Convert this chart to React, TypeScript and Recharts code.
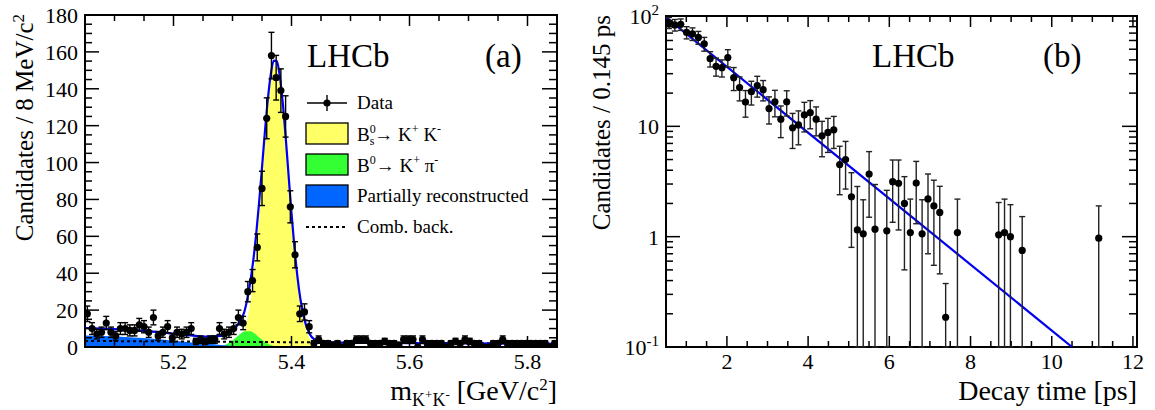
import React from "react";
import { ComposedChart, XAxis, YAxis, Line, Area, Scatter, ErrorBar, ReferenceArea } from "recharts";

const SERIF = '"Liberation Serif", "Times New Roman", serif';

// (a) K+K- invariant mass, 8 MeV/c2 bins from 5.05 to 5.85 GeV/c2
const MASS_LO = 5.05;
const MASS_BIN = 0.008;
const massCounts = [
  18, 10, 7, 8, 13, 8, 6, 10, 10, 9,
  9, 12, 11, 8, 16, 6, 8, 11, 5, 8,
  7, 8, 10, 3, 4, 3, 4, 4, 10, 7,
  8, 10, 16, 13, 30, 36, 54, 86, 124, 158,
  146, 139, 125, 76, 50, 18, 19, 11, 2, 4,
  2, 2, 1, 2, 0, 2, 2, 4, 4, 4,
  2, 2, 2, 3, 2, 2, 1, 4, 4, 4,
  0, 4, 2, 2, 2, 2, 0, 2, 3, 2,
  4, 3, 2, 2, 0, 0, 2, 2, 4, 2,
  2, 2, 2, 2, 2, 2, 2, 2, 0, 2,
];
const massErr = [
  4.2, 3.2, 2.6, 2.8, 3.6, 2.8, 2.4, 3.2, 3.2, 3.0,
  3.0, 3.5, 3.3, 2.8, 4.0, 2.4, 2.8, 3.3, 2.2, 2.8,
  2.6, 2.8, 3.2, 1.7, 2.0, 1.7, 2.0, 2.0, 3.2, 2.6,
  2.8, 3.2, 4.0, 3.6, 5.5, 6.0, 7.3, 9.3, 11.1, 12.6,
  12.1, 11.8, 11.2, 8.7, 7.1, 4.2, 4.4, 3.3, 1.4, 2.0,
  1.4, 1.4, 1.0, 1.4, 1.1, 1.4, 1.4, 2.0, 2.0, 2.0,
  1.4, 1.4, 1.4, 1.7, 1.4, 1.4, 1.0, 2.0, 2.0, 2.0,
  1.1, 2.0, 1.4, 1.4, 1.4, 1.4, 1.1, 1.4, 1.7, 1.4,
  2.0, 1.7, 1.4, 1.4, 1.1, 1.1, 1.4, 1.4, 2.0, 1.4,
  1.4, 1.4, 1.4, 1.4, 1.4, 1.4, 1.4, 1.4, 1.1, 1.4,
];

// fit and its components, read along the mass axis
const curveMass = [
  5.05, 5.08, 5.11, 5.14, 5.17, 5.2, 5.23, 5.26,
  5.28, 5.29, 5.3, 5.31, 5.32, 5.33,
  5.335, 5.34, 5.345, 5.35, 5.355, 5.36, 5.365, 5.37, 5.375, 5.38,
  5.385, 5.39, 5.395, 5.4, 5.405, 5.41, 5.415, 5.42,
  5.43, 5.44, 5.45, 5.47, 5.5, 5.6, 5.7, 5.85,
];
const fitTotal = [
  10.3, 10.0, 9.6, 9.0, 8.2, 7.3, 6.3, 5.6,
  6.0, 7.0, 9.0, 12.5, 19, 35,
  46.4, 60.8, 78, 97.4, 116.9, 134.6, 148.1, 155.3, 155, 147.2,
  133, 114.3, 93.4, 72.6, 54, 38.3, 26.2, 17.4,
  7.5, 3.9, 2.8, 2.5, 2.35, 2.15, 1.95, 1.75,
];
const sigBs = [
  0, 0, 0, 0, 0, 0, 0, 0,
  0, 0.15, 0.7, 2.7, 8.9, 23.7,
  35.8, 51.4, 70, 90.7, 111.6, 130.2, 144.4, 152, 152, 144.4,
  130.2, 111.6, 90.7, 70, 51.4, 35.8, 23.7, 14.9,
  5, 1.4, 0.3, 0, 0, 0, 0, 0,
];
const sigB0 = [
  0, 0, 0, 0, 0, 0, 0, 0.05,
  0.5, 1.5, 3.5, 6.2, 8.4, 8.6,
  7.9, 6.7, 5.3, 4.0, 2.7, 1.8, 1.1, 0.6, 0.35, 0.18,
  0.09, 0.04, 0, 0, 0, 0, 0, 0,
  0, 0, 0, 0, 0, 0, 0, 0,
];
const partReco = [
  6.2, 5.9, 5.5, 5.0, 4.3, 3.4, 2.5, 1.7,
  1.1, 0.8, 0.5, 0.25, 0.1, 0,
  0, 0, 0, 0, 0, 0, 0, 0, 0, 0,
  0, 0, 0, 0, 0, 0, 0, 0,
  0, 0, 0, 0, 0, 0, 0, 0,
];
const combMass = [5.05, 5.45, 5.85];
const combBkg = [3.3, 2.5, 1.75];

// (b) decay time, 0.145 ps bins from 0.5 ps; null = bin not drawn on the log scale
const T_LO = 0.5;
const T_BIN = 0.145;
const decayVals = [
  87, 83, 84, 71, 69, 64, 56, 41, 35, 34,
  42, 27.6, 22.5, 16.6, 20.6, 23.4, 21.5, 14.5, 16.7, 11.6,
  16.7, 9.7, 10.3, 12.7, 13.3, 11.6, 8.2, 8.8, 9.3, 4.5,
  5.0, 2.3, 1.15, 1.06, 3.7, 1.17, null, 1.13, 3.15, 3.05,
  2.0, 1.09, 3.06, 1.06, 2.2, 1.9, 1.66, 0.186, null, 1.09,
  null, null, null, null, null, null, 1.04, 1.09, 1.0, null,
  0.75, null, null, null, null, null, null, null, null, null,
  null, null, null, 0.97, null, null, null, null, null, null,
];
const decayErr = [
  10, 10, 10, 9, 9, 8.5, 8, 6.5, 6.5, 6,
  7.5, 6.5, 5.5, 4.5, 5, 5, 4.5, 4, 4.5, 3.7,
  4.3, 3.4, 3.5, 3.8, 3.8, 3.4, 2.9, 3, 3, 2.1,
  2.3, 1.5, 1.7, 1.1, 2.2, 1.8, null, 1.5, 1.8, 1.9,
  1.5, 1.1, 1.75, 1.1, 1.5, 1.35, 1.2, 0.19, null, 1.1,
  null, null, null, null, null, null, 1.0, 1.1, 0.95, null,
  0.77, null, null, null, null, null, null, null, null, null,
  null, null, null, 0.93, null, null, null, null, null, null,
];
const fitTime = [0.5, 10.5];
const fitDecay = [97.3, 0.1];

// axis ticks
const massTicks = [5.05, 5.1, 5.15, 5.2, 5.25, 5.3, 5.35, 5.4, 5.45, 5.5, 5.55, 5.6, 5.65, 5.7, 5.75, 5.8, 5.85];
const massLabels = [5.2, 5.4, 5.6, 5.8];
const countTicks = [
  0, 5, 10, 15, 20, 25, 30, 35, 40, 45, 50, 55, 60, 65, 70, 75, 80, 85, 90,
  95, 100, 105, 110, 115, 120, 125, 130, 135, 140, 145, 150, 155, 160, 165, 170, 175, 180,
];
const countLabels = [0, 20, 40, 60, 80, 100, 120, 140, 160, 180];
const timeTicks = [1, 1.5, 2, 2.5, 3, 3.5, 4, 4.5, 5, 5.5, 6, 6.5, 7, 7.5, 8, 8.5, 9, 9.5, 10, 10.5, 11, 11.5, 12];
const timeLabels = [2, 4, 6, 8, 10, 12];
const logTicks = [
  0.1, 0.2, 0.3, 0.4, 0.5, 0.6, 0.7, 0.8, 0.9,
  1, 2, 3, 4, 5, 6, 7, 8, 9,
  10, 20, 30, 40, 50, 60, 70, 80, 90, 100,
];
const logLabels = [0.1, 1, 10, 100];

const massPoints = massCounts.map((n, i) => ({
  x: MASS_LO + MASS_BIN * (i + 0.5),
  y: n,
  err: [Math.min(massErr[i], n), massErr[i]],
}));
const curveData = curveMass.map((x, i) => ({
  x,
  total: fitTotal[i],
  bs: sigBs[i],
  b0: sigB0[i],
  part: partReco[i],
}));
const combData = combMass.map((x, i) => ({ x, comb: combBkg[i] }));

const decayPoints = decayVals.flatMap((v, i) => {
  const e = decayErr[i];
  if (v == null || e == null) return [];
  return [{ x: T_LO + T_BIN * (i + 0.5), y: v, err: [Math.min(e, v - 0.1), e] }];
});
const fitData = fitTime.map((x, i) => ({ x, fit: fitDecay[i] }));

type Side = "bottom" | "top" | "left" | "right";
const isIn = (list: number[], v: number) => list.some((m) => Math.abs(m - v) < 1e-6);

// ticks point inwards, as on the ROOT frame; the axis sits 1px outside the plot
function tickMaker(side: Side, labels: number[], major: number, minor: number, fmt?: (v: number) => React.ReactNode) {
  return (props: any) => {
    const v = props.payload.value;
    let x = Number(props.x);
    let y = Number(props.y);
    if (side === "bottom") y -= 1;
    if (side === "top") y += 1;
    if (side === "right") x -= 1;
    const big = isIn(labels, v);
    const len = big ? major : minor;
    let x2 = x;
    let y2 = y;
    if (side === "bottom") y2 = y - len;
    if (side === "top") y2 = y + len;
    if (side === "left") x2 = x + len;
    if (side === "right") x2 = x - len;
    return (
      <g>
        <path d={`M${x},${y}L${x2},${y2}`} stroke="#000" strokeWidth={1.5} fill="none" />
        {big && fmt && side === "bottom" && (
          <text x={x} y={y + 23} textAnchor="middle" fontFamily={SERIF} fontSize={22} fill="#000">
            {fmt(v)}
          </text>
        )}
        {big && fmt && side === "left" && (
          <text x={x - 7} y={y + 8} textAnchor="end" fontFamily={SERIF} fontSize={22} fill="#000">
            {fmt(v)}
          </text>
        )}
      </g>
    );
  };
}

const logFmt = (v: number) => {
  if (v === 0.1)
    return (
      <>
        <tspan>10</tspan>
        <tspan dy={-9} fontSize={15}>-1</tspan>
      </>
    );
  if (v === 100)
    return (
      <>
        <tspan>10</tspan>
        <tspan dy={-9} fontSize={15}>2</tspan>
      </>
    );
  return String(v);
};

function MassPanel() {
  return (
    <ComposedChart width={570} height={410} data={curveData} margin={{ top: 14, right: 12, bottom: 62, left: 0 }}>
      <XAxis dataKey="x" type="number" domain={[5.05, 5.85]} allowDataOverflow ticks={massTicks} interval={0}
        height={1} tickSize={0} tickMargin={0} tickLine={false} axisLine={false}
        tick={tickMaker("bottom", massLabels, 10, 5, (v) => v.toFixed(1))} />
      <XAxis xAxisId="top" orientation="top" dataKey="x" type="number" domain={[5.05, 5.85]} allowDataOverflow
        ticks={massTicks} interval={0} height={1} tickSize={0} tickMargin={0} tickLine={false} axisLine={false}
        tick={tickMaker("top", massLabels, 10, 5)} />
      <YAxis type="number" domain={[0, 180]} allowDataOverflow ticks={countTicks} interval={0} width={85}
        tickSize={0} tickMargin={0} tickLine={false} axisLine={false}
        tick={tickMaker("left", countLabels, 14, 7, (v) => String(v))} />
      <YAxis yAxisId="right" orientation="right" type="number" domain={[0, 180]} allowDataOverflow ticks={countTicks}
        interval={0} width={1} tickSize={0} tickMargin={0} tickLine={false} axisLine={false}
        tick={tickMaker("right", countLabels, 14, 7)} />
      <Area type="monotone" dataKey="bs" fill="#FFFF66" fillOpacity={1} stroke="none" isAnimationActive={false} />
      <Area type="monotone" dataKey="b0" fill="#33FF33" fillOpacity={1} stroke="none" isAnimationActive={false} />
      <Area type="monotone" dataKey="part" fill="#0066FF" fillOpacity={1} stroke="none" isAnimationActive={false} />
      <Line data={combData} type="linear" dataKey="comb" stroke="#000" strokeWidth={2} strokeDasharray="3 3"
        dot={false} isAnimationActive={false} />
      <Line type="monotone" dataKey="total" stroke="#0000EE" strokeWidth={2.2} dot={false} isAnimationActive={false} />
      <Scatter data={massPoints} dataKey="y" isAnimationActive={false}
        shape={(p: any) => <circle cx={p.cx} cy={p.cy} r={3.6} fill="#000" />}>
        <ErrorBar dataKey="err" direction="y" width={3} stroke="#000" strokeWidth={1.4} />
      </Scatter>
      <ReferenceArea x1={5.05} x2={5.85} y1={0} y2={180} fill="none" fillOpacity={0} stroke="#000"
        strokeWidth={2} ifOverflow="visible" />
    </ComposedChart>
  );
}

function DecayPanel() {
  return (
    <ComposedChart width={580} height={410} data={fitData} margin={{ top: 15, right: 17, bottom: 62, left: 0 }}>
      <XAxis dataKey="x" type="number" domain={[0.5, 12.1]} allowDataOverflow ticks={timeTicks} interval={0}
        height={1} tickSize={0} tickMargin={0} tickLine={false} axisLine={false}
        tick={tickMaker("bottom", timeLabels, 10, 5, (v) => String(v))} />
      <XAxis xAxisId="top" orientation="top" dataKey="x" type="number" domain={[0.5, 12.1]} allowDataOverflow
        ticks={timeTicks} interval={0} height={1} tickSize={0} tickMargin={0} tickLine={false} axisLine={false}
        tick={tickMaker("top", timeLabels, 10, 5)} />
      <YAxis type="number" scale="log" domain={[0.1, 100]} allowDataOverflow ticks={logTicks} interval={0} width={91}
        tickSize={0} tickMargin={0} tickLine={false} axisLine={false}
        tick={tickMaker("left", logLabels, 14, 7, logFmt)} />
      <YAxis yAxisId="right" orientation="right" type="number" scale="log" domain={[0.1, 100]} allowDataOverflow
        ticks={logTicks} interval={0} width={1} tickSize={0} tickMargin={0} tickLine={false} axisLine={false}
        tick={tickMaker("right", logLabels, 14, 7)} />
      <Line type="linear" dataKey="fit" stroke="#0000EE" strokeWidth={2.2} dot={false} isAnimationActive={false} />
      <Scatter data={decayPoints} dataKey="y" isAnimationActive={false}
        shape={(p: any) => <circle cx={p.cx} cy={p.cy} r={3.6} fill="#000" />}>
        <ErrorBar dataKey="err" direction="y" width={3} stroke="#222" strokeWidth={1.4} />
      </Scatter>
      <ReferenceArea x1={0.5} x2={12.1} y1={0.1} y2={100} fill="none" fillOpacity={0} stroke="#000"
        strokeWidth={2} ifOverflow="visible" />
    </ComposedChart>
  );
}

function Overlay() {
  const t = { fontFamily: SERIF, fill: "#000" } as const;
  return (
    <svg width={1155} height={410} style={{ position: "absolute", left: 0, top: 0, pointerEvents: "none" }}>
      {/* panel (a) */}
      <text {...t} x={307} y={67} fontSize={33}>LHCb</text>
      <text {...t} x={485} y={67} fontSize={33}>(a)</text>
      <text {...t} fontSize={25} textAnchor="end" transform="translate(33,14) rotate(-90)">
        <tspan>Candidates / 8 MeV/c</tspan>
        <tspan dy={-9} fontSize={17}>2</tspan>
      </text>
      <text {...t} fontSize={28} textAnchor="end" x={557} y={400}>
        <tspan>m</tspan>
        <tspan fontSize={18} dy={6}>K</tspan>
        <tspan fontSize={13} dy={-7}>+</tspan>
        <tspan fontSize={18} dy={7}>K</tspan>
        <tspan fontSize={13} dy={-7}>-</tspan>
        <tspan dy={1}> [GeV/c</tspan>
        <tspan fontSize={17} dy={-10}>2</tspan>
        <tspan dy={10}>]</tspan>
      </text>

      {/* legend */}
      <line x1={307} y1={103} x2={347} y2={103} stroke="#000" strokeWidth={1.4} />
      <line x1={327} y1={95} x2={327} y2={111} stroke="#000" strokeWidth={1.4} />
      <circle cx={327} cy={103} r={3.6} fill="#000" />
      <text {...t} x={357} y={109} fontSize={19}>Data</text>

      <rect x={306} y={123} width={42} height={21} fill="#FFFF66" stroke="#000" strokeWidth={1.3} />
      <text {...t} x={357} y={141} fontSize={19}>
        <tspan>B</tspan>
        <tspan fontSize={12} dy={-8}>0</tspan>
        <tspan fontSize={12} dx={-6} dy={12}>s</tspan>
        <tspan dy={-4}>→ K</tspan>
        <tspan fontSize={12} dy={-8}>+</tspan>
        <tspan dy={8}> K</tspan>
        <tspan fontSize={12} dy={-8}>-</tspan>
      </text>

      <rect x={306} y={154} width={42} height={21} fill="#33FF33" stroke="#000" strokeWidth={1.3} />
      <text {...t} x={357} y={172} fontSize={19}>
        <tspan>B</tspan>
        <tspan fontSize={12} dy={-8}>0</tspan>
        <tspan dy={8}>→ K</tspan>
        <tspan fontSize={12} dy={-8}>+</tspan>
        <tspan dy={8}> π</tspan>
        <tspan fontSize={12} dy={-8}>-</tspan>
      </text>

      <rect x={306} y={185} width={42} height={22} fill="#0066FF" stroke="#000" strokeWidth={1.3} />
      <text {...t} x={357} y={202} fontSize={19}>Partially reconstructed</text>

      <line x1={306} y1={227} x2={347} y2={227} stroke="#000" strokeWidth={2} strokeDasharray="3 3" />
      <text {...t} x={357} y={233} fontSize={19}>Comb. back.</text>

      {/* panel (b) */}
      <text {...t} x={872} y={67} fontSize={33}>LHCb</text>
      <text {...t} x={1043} y={67} fontSize={33}>(b)</text>
      <text {...t} fontSize={25} textAnchor="end" transform="translate(610,15) rotate(-90)">
        Candidates / 0.145 ps
      </text>
      <text {...t} fontSize={28} textAnchor="end" x={1137} y={400}>Decay time [ps]</text>
    </svg>
  );
}

export default function App() {
  return (
    <div style={{ position: "absolute", left: 0, top: 0, width: 1155, height: 410, background: "#fff" }}>
      <div style={{ position: "absolute", left: 0, top: 0 }}>
        <MassPanel />
      </div>
      <div style={{ position: "absolute", left: 575, top: 0 }}>
        <DecayPanel />
      </div>
      <Overlay />
    </div>
  );
}
